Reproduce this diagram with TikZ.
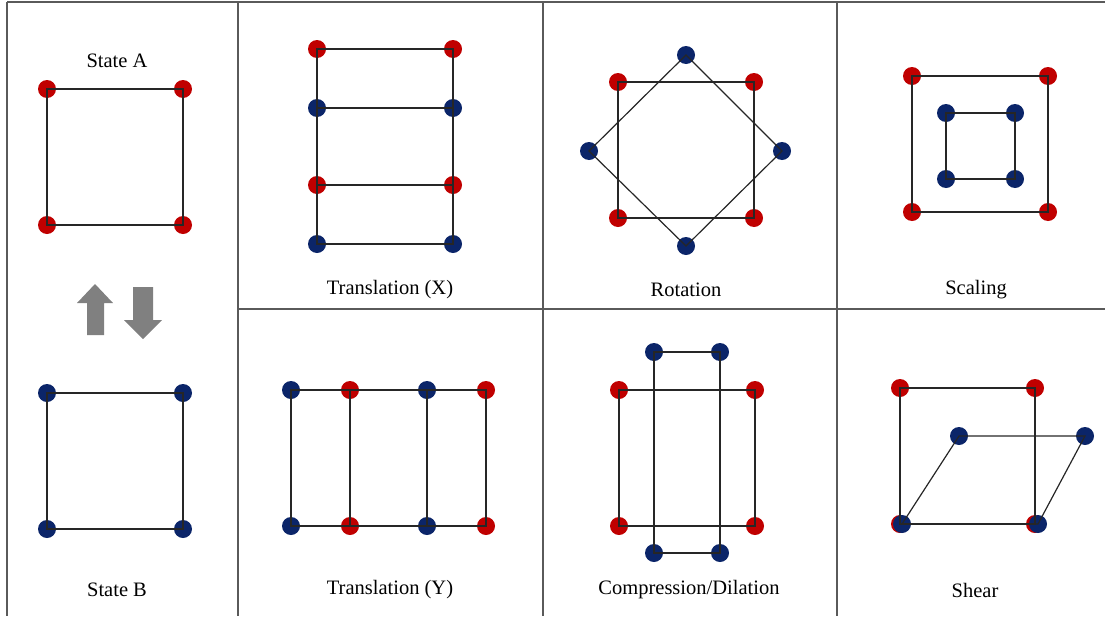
\documentclass[tikz,border=0pt]{standalone}
\usepackage{fontspec}
\setmainfont{Liberation Serif}

\definecolor{dotred}{HTML}{C00000}
\definecolor{dotblue}{HTML}{0B2569}
\definecolor{gridgray}{HTML}{5A5A5A}
\definecolor{arrowgray}{HTML}{808080}

\tikzset{
  pt/.style={circle,inner sep=0pt,minimum size=18pt},
  rdot/.style={pt,fill=dotred},
  bdot/.style={pt,fill=dotblue},
  edge/.style={black!85,line width=1.2pt},
  cell/.style={gridgray,line width=1.5pt},
  lbl/.style={font=\fontsize{20.5}{24}\selectfont}
}

\begin{document}
\begin{tikzpicture}[x=1pt,y=-1pt]
  \useasboundingbox (0,0) rectangle (1105,616);
  % table lines
  \draw[cell] (7,2) -- (1105,2);
  \draw[cell] (7,2) -- (7,616);
  \foreach \x in {238,543,837}
    \draw[cell] (\x,2) -- (\x,616);
  \draw[cell] (238,309) -- (1105,309);

  % state A / state B
  \node[lbl] (ttlA) at (117,61) {State A};
  \foreach \n/\x/\y in {a1/47/89, a2/183/89, a3/183/225, a4/47/225}
    \node[rdot] (\n) at (\x,\y) {};
  \draw[edge] (a1.center) -- (a2.center) -- (a3.center) -- (a4.center) -- cycle;
  \fill[arrowgray] (95,284) -- (113,303) -- (104,303) -- (104,335) -- (87,335) -- (87,303) -- (77,303) -- cycle;
  \fill[arrowgray] (143,339) -- (162,320) -- (153,320) -- (153,287) -- (133,287) -- (133,320) -- (124,320) -- cycle;
  \foreach \n/\x/\y in {b1/47/393, b2/183/393, b3/183/529, b4/47/529}
    \node[bdot] (\n) at (\x,\y) {};
  \draw[edge] (b1.center) -- (b2.center) -- (b3.center) -- (b4.center) -- cycle;
  \node[lbl] (ttlB) at (117,590) {State B};

  % translation (X)
  \foreach \n/\x/\y in {tx1/317/49, tx2/453/49, tx3/453/185, tx4/317/185}
    \node[rdot] (\n) at (\x,\y) {};
  \foreach \n/\x/\y in {tx5/317/108, tx6/453/108, tx7/453/244, tx8/317/244}
    \node[bdot] (\n) at (\x,\y) {};
  \draw[edge] (tx1.center) -- (tx2.center) -- (tx3.center) -- (tx4.center) -- cycle;
  \draw[edge] (tx5.center) -- (tx6.center) -- (tx7.center) -- (tx8.center) -- cycle;
  \node[lbl] (ttlTX) at (390,290) {Translation (X)};

  % rotation
  \foreach \n/\x/\y in {ro1/618/82, ro2/754/82, ro3/754/218, ro4/618/218}
    \node[rdot] (\n) at (\x,\y) {};
  \foreach \n/\x/\y in {ro5/686/55, ro6/782/151, ro7/686/246, ro8/589/151}
    \node[bdot] (\n) at (\x,\y) {};
  \draw[edge] (ro1.center) -- (ro2.center) -- (ro3.center) -- (ro4.center) -- cycle;
  \draw[edge] (ro5.center) -- (ro6.center) -- (ro7.center) -- (ro8.center) -- cycle;
  \node[lbl] (ttlRo) at (686,290) {Rotation};

  % scaling
  \foreach \n/\x/\y in {sc1/912/76, sc2/1048/76, sc3/1048/212, sc4/912/212}
    \node[rdot] (\n) at (\x,\y) {};
  \foreach \n/\x/\y in {sc5/946/113, sc6/1015/113, sc7/1015/179, sc8/946/179}
    \node[bdot] (\n) at (\x,\y) {};
  \draw[edge] (sc1.center) -- (sc2.center) -- (sc3.center) -- (sc4.center) -- cycle;
  \draw[edge] (sc5.center) -- (sc6.center) -- (sc7.center) -- (sc8.center) -- cycle;
  \node[lbl] (ttlSc) at (976,290) {Scaling};

  % translation (Y)
  \foreach \n/\x/\y in {ty1/291/390, ty2/427/390, ty3/427/526, ty4/291/526}
    \node[bdot] (\n) at (\x,\y) {};
  \foreach \n/\x/\y in {ty5/350/390, ty6/486/390, ty7/486/526, ty8/350/526}
    \node[rdot] (\n) at (\x,\y) {};
  \draw[edge] (ty1.center) -- (ty2.center) -- (ty3.center) -- (ty4.center) -- cycle;
  \draw[edge] (ty5.center) -- (ty6.center) -- (ty7.center) -- (ty8.center) -- cycle;
  \node[lbl] (ttlTY) at (390,590) {Translation (Y)};

  % compression/dilation
  \foreach \n/\x/\y in {cd1/619/390, cd2/755/390, cd3/755/526, cd4/619/526}
    \node[rdot] (\n) at (\x,\y) {};
  \foreach \n/\x/\y in {cd5/654/352, cd6/720/352, cd7/720/553, cd8/654/553}
    \node[bdot] (\n) at (\x,\y) {};
  \draw[edge] (cd1.center) -- (cd2.center) -- (cd3.center) -- (cd4.center) -- cycle;
  \draw[edge] (cd5.center) -- (cd6.center) -- (cd7.center) -- (cd8.center) -- cycle;
  \node[lbl] (ttlCD) at (689,590) {Compression/Dilation};

  % shear
  \foreach \n/\x/\y in {sh1/900/388, sh2/1035/388, sh3/1035/524, sh4/900/524}
    \node[rdot] (\n) at (\x,\y) {};
  \foreach \n/\x/\y in {sh5/959/436, sh6/1085/436, sh7/1038/524, sh8/902/524}
    \node[bdot] (\n) at (\x,\y) {};
  \draw[edge] (sh1.center) -- (sh2.center) -- (sh3.center) -- (sh4.center) -- cycle;
  \draw[edge] (sh5.center) -- (sh6.center) -- (sh7.center) -- (sh8.center) -- cycle;
  \node[lbl] (ttlSh) at (975,590) {Shear};
\end{tikzpicture}
\end{document}
